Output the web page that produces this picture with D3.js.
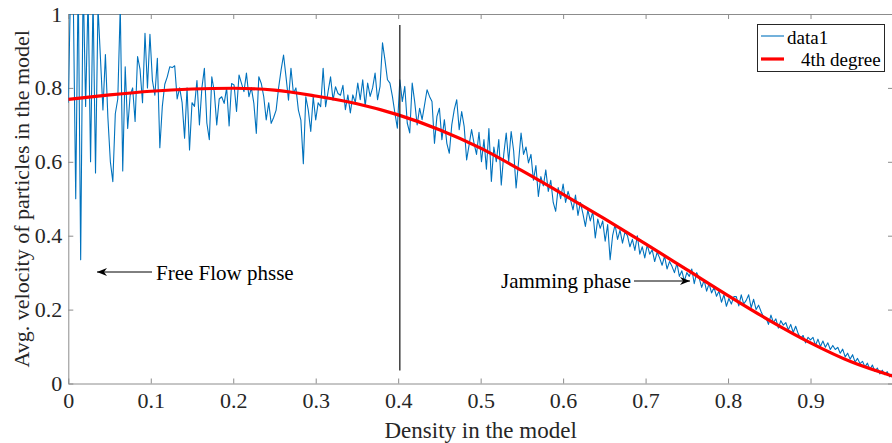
<!DOCTYPE html>
<html>
<head>
<meta charset="utf-8">
<script src="https://cdn.jsdelivr.net/npm/d3@7"></script>
<style>
  body { margin: 0; background: #fff; }
  svg { display: block; font-family: "Liberation Serif", "Times New Roman", serif; }
</style>
</head>
<body>
<div id="chart"></div>
<script>
// simulated data (data1), one value every 0.003 of density starting at 0
const densityStep = 0.003;
const velocity = [
  0.76, 1.10, 1.05, 0.50, 1.10, 0.335, 1.10, 0.75, 1.05, 0.60,
  1.05, 0.57, 1.02, 0.88, 0.74, 0.89, 0.72, 0.60, 0.546, 0.73,
  0.77, 1.02, 0.575, 0.857, 0.69, 0.78, 0.80, 0.709, 0.885, 0.85,
  0.76, 0.948, 0.80, 0.945, 0.82, 0.78, 0.88, 0.638, 0.75, 0.81,
  0.83, 0.857, 0.855, 0.86, 0.77, 0.80, 0.76, 0.664, 0.80, 0.632,
  0.76, 0.75, 0.82, 0.70, 0.80, 0.853, 0.705, 0.66, 0.83, 0.79,
  0.70, 0.77, 0.776, 0.758, 0.80, 0.697, 0.812, 0.808, 0.736, 0.835,
  0.812, 0.79, 0.84, 0.776, 0.80, 0.758, 0.677, 0.83, 0.812, 0.776,
  0.713, 0.76, 0.704, 0.72, 0.74, 0.80, 0.848, 0.889, 0.83, 0.767,
  0.853, 0.785, 0.80, 0.74, 0.713, 0.595, 0.776, 0.74, 0.682, 0.776,
  0.713, 0.76, 0.749, 0.853, 0.749, 0.79, 0.83, 0.767, 0.803, 0.785,
  0.78, 0.807, 0.741, 0.781, 0.732, 0.781, 0.76, 0.813, 0.768, 0.822,
  0.75, 0.813, 0.777, 0.80, 0.84, 0.768, 0.804, 0.922, 0.875, 0.822,
  0.813, 0.777, 0.732, 0.691, 0.822, 0.763, 0.804, 0.705, 0.678, 0.813,
  0.763, 0.70, 0.745, 0.714, 0.754, 0.795, 0.777, 0.763, 0.65, 0.723,
  0.745, 0.66, 0.714, 0.65, 0.623, 0.70, 0.741, 0.768, 0.687, 0.736,
  0.696, 0.605, 0.646, 0.687, 0.65, 0.62, 0.68, 0.60, 0.66, 0.58,
  0.69, 0.547, 0.64, 0.60, 0.66, 0.537, 0.62, 0.678, 0.60, 0.682,
  0.63, 0.529, 0.60, 0.678, 0.62, 0.64, 0.597, 0.62, 0.55, 0.59,
  0.506, 0.56, 0.535, 0.578, 0.52, 0.55, 0.49, 0.466, 0.53, 0.50,
  0.54, 0.49, 0.52, 0.497, 0.47, 0.51, 0.455, 0.49, 0.46, 0.425,
  0.47, 0.44, 0.465, 0.394, 0.445, 0.42, 0.44, 0.385, 0.43, 0.335,
  0.40, 0.43, 0.39, 0.415, 0.38, 0.41, 0.40, 0.37, 0.39, 0.36,
  0.40, 0.35, 0.37, 0.34, 0.375, 0.35, 0.362, 0.33, 0.355, 0.34,
  0.32, 0.345, 0.31, 0.33, 0.317, 0.30, 0.325, 0.29, 0.305, 0.277,
  0.30, 0.29, 0.31, 0.27, 0.30, 0.285, 0.26, 0.28, 0.25, 0.27,
  0.245, 0.26, 0.236, 0.25, 0.22, 0.24, 0.209, 0.23, 0.215, 0.235,
  0.235, 0.21, 0.24, 0.215, 0.225, 0.24, 0.205, 0.228, 0.20, 0.212,
  0.195, 0.18, 0.178, 0.16, 0.185, 0.165, 0.175, 0.15, 0.17, 0.158,
  0.165, 0.145, 0.16, 0.138, 0.155, 0.135, 0.122, 0.13, 0.11, 0.125,
  0.118, 0.125, 0.103, 0.12, 0.10, 0.115, 0.098, 0.11, 0.092, 0.103,
  0.092, 0.098, 0.082, 0.093, 0.072, 0.082, 0.066, 0.078, 0.058, 0.068,
  0.054, 0.06, 0.045, 0.055, 0.038, 0.05, 0.033, 0.042, 0.026, 0.036,
  0.024, 0.032, 0.018, 0.026
];

// 4th degree fit
const fitDensity = [0, 0.05, 0.1, 0.15, 0.2, 0.25, 0.3, 0.35, 0.4, 0.45, 0.5,
  0.55, 0.6, 0.65, 0.7, 0.75, 0.8, 0.85, 0.9, 0.95, 1.0];
const fitVelocity = [0.769, 0.781, 0.791, 0.797, 0.799, 0.794, 0.778, 0.757, 0.727, 0.687, 0.637,
  0.576, 0.512, 0.446, 0.378, 0.308, 0.238, 0.171, 0.110, 0.058, 0.020];

const xTicks = [0, 0.1, 0.2, 0.3, 0.4, 0.5, 0.6, 0.7, 0.8, 0.9, 1];
const yTicks = [0, 0.2, 0.4, 0.6, 0.8, 1];
const legendLabels = ["data1", "4th degree"];

// phase boundary line
const boundary = { x: 0.402, y0: 0.035, y1: 0.97 };

// size and margins
const width = 892, height = 443;
const margin = { top: 14, right: -1, bottom: 59.5, left: 68.3 };

const x = d3.scaleLinear().domain([0, 1]).range([margin.left, width - margin.right]);
const y = d3.scaleLinear().domain([0, 1]).range([height - margin.bottom, margin.top]);

const svg = d3.select("#chart").append("svg")
  .attr("width", width)
  .attr("height", height);

svg.append("defs").append("clipPath").attr("id", "plotClip")
  .append("rect")
  .attr("x", x(0)).attr("y", y(1))
  .attr("width", x(1) - x(0)).attr("height", y(0) - y(1));

const marker = svg.select("defs").append("marker")
  .attr("id", "arrow")
  .attr("viewBox", "0 0 10 10")
  .attr("refX", 10).attr("refY", 5)
  .attr("markerWidth", 10).attr("markerHeight", 10)
  .attr("markerUnits", "userSpaceOnUse")
  .attr("orient", "auto");
marker.append("path").attr("d", "M0,1 L10,5 L0,9 L3,5 Z").attr("fill", "#000");

const axisColor = "#8c8c8c";
const tickLen = 5;
const serif = "'Liberation Serif', 'Times New Roman', serif";

// axes (ticks inside, box on)
svg.append("g")
  .attr("transform", `translate(0,${y(0)})`)
  .call(d3.axisBottom(x).tickValues(xTicks).tickSizeInner(-tickLen).tickSizeOuter(0)
    .tickFormat(d => d === 1 ? "" : d3.format("")(d)).tickPadding(9));
svg.append("g")
  .attr("transform", `translate(${x(0)},0)`)
  .call(d3.axisLeft(y).tickValues(yTicks).tickSizeInner(-tickLen).tickSizeOuter(0)
    .tickFormat(d3.format("")).tickPadding(6));
svg.append("g")
  .attr("transform", `translate(0,${y(1)})`)
  .call(d3.axisTop(x).tickValues(xTicks).tickSizeInner(-tickLen).tickSizeOuter(0).tickFormat(""));
svg.append("g")
  .attr("transform", `translate(${x(1)},0)`)
  .call(d3.axisRight(y).tickValues(yTicks).tickSizeInner(-tickLen).tickSizeOuter(0).tickFormat(""));

svg.selectAll(".domain, .tick line").attr("stroke", axisColor);
svg.selectAll(".tick text")
  .attr("fill", "#262626")
  .style("font-size", "22px")
  .style("font-family", serif);

// data1 line
const line = d3.line()
  .x((d, i) => x(i * densityStep))
  .y(d => y(d));

const plot = svg.append("g").attr("clip-path", "url(#plotClip)");

plot.append("path")
  .datum(velocity)
  .attr("fill", "none")
  .attr("stroke", "#0072BD")
  .attr("stroke-width", 1.1)
  .attr("stroke-linejoin", "round")
  .attr("d", line);

// fitted curve
const fitLine = d3.line()
  .x((d, i) => x(fitDensity[i]))
  .y(d => y(d))
  .curve(d3.curveMonotoneX);

plot.append("path")
  .datum(fitVelocity)
  .attr("fill", "none")
  .attr("stroke", "#ff0000")
  .attr("stroke-width", 3.2)
  .attr("d", fitLine);

// phase boundary
svg.append("line")
  .attr("x1", x(boundary.x)).attr("x2", x(boundary.x))
  .attr("y1", y(boundary.y1)).attr("y2", y(boundary.y0))
  .attr("stroke", "#222")
  .attr("stroke-width", 1.3);

// annotations
svg.append("line")
  .attr("x1", 152).attr("y1", 272).attr("x2", 97).attr("y2", 272)
  .attr("stroke", "#000").attr("stroke-width", 1)
  .attr("marker-end", "url(#arrow)");
svg.append("text")
  .attr("x", 156).attr("y", 280)
  .style("font-size", "21px")
  .text("Free Flow phsse");

svg.append("text")
  .attr("x", 501).attr("y", 288)
  .style("font-size", "21px")
  .text("Jamming phase");
svg.append("line")
  .attr("x1", 634).attr("y1", 281).attr("x2", 690).attr("y2", 281)
  .attr("stroke", "#000").attr("stroke-width", 1)
  .attr("marker-end", "url(#arrow)");

// axis labels
svg.append("text")
  .attr("x", (x(0) + x(1)) / 2).attr("y", 438)
  .attr("text-anchor", "middle")
  .attr("fill", "#262626")
  .style("font-size", "23px")
  .text("Density in the model");

svg.append("text")
  .attr("transform", `translate(29,${(y(0) + y(1)) / 2}) rotate(-90)`)
  .attr("text-anchor", "middle")
  .attr("fill", "#262626")
  .style("font-size", "22px")
  .text("Avg. velocity of particles in the model");

// legend
const legend = svg.append("g");
legend.append("rect")
  .attr("x", 757.5).attr("y", 24.5)
  .attr("width", 127).attr("height", 47)
  .attr("fill", "#fff")
  .attr("stroke", "#262626")
  .attr("stroke-width", 1);
const legendStyles = [
  { color: "#0072BD", w: 1.1, lx: 787, ly: 36, ty: 44 },
  { color: "#ff0000", w: 3.2, lx: 801, ly: 59, ty: 66 }
];
legendLabels.forEach((label, i) => {
  const s = legendStyles[i];
  legend.append("line")
    .attr("x1", 761).attr("x2", 784)
    .attr("y1", s.ly).attr("y2", s.ly)
    .attr("stroke", s.color).attr("stroke-width", s.w);
  legend.append("text")
    .attr("x", s.lx).attr("y", s.ty)
    .style("font-size", "19px")
    .text(label);
});
</script>
</body>
</html>
